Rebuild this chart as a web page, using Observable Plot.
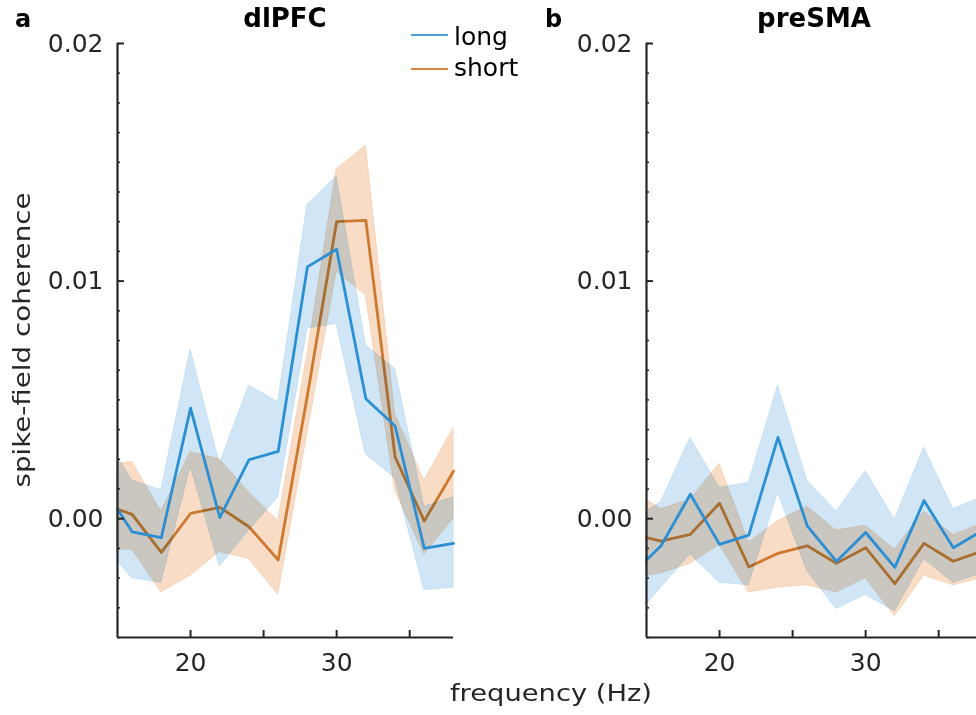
<!DOCTYPE html>
<html>
<head>
<meta charset="utf-8">
<script src="https://cdn.jsdelivr.net/npm/d3@7"></script>
<script src="https://cdn.jsdelivr.net/npm/@observablehq/plot@0.6"></script>
<style>
html, body { margin: 0; padding: 0; background: #fff; overflow: hidden; }
#fig { position: relative; width: 976px; height: 715px; overflow: hidden; font-family: "DejaVu Sans", sans-serif; }
#fig .panel { position: absolute; top: 0; }
#fig .panel svg { max-width: none !important; }
#overlay { position: absolute; left: 0; top: 0; }
</style>
</head>
<body>
<div id="fig"></div>
<script>
// ---- data ----
const freqs = [15, 16, 18, 20, 22, 24, 26, 28, 30, 32, 34, 36, 38];

// panel a: dlPFC
const dlpfcLong   = [0.0004, -0.00055, -0.0008, 0.00465, 0.00005, 0.00248, 0.00283, 0.0106, 0.01134, 0.00505, 0.0039, -0.00125, -0.00104];
const dlpfcLongLo = [-0.0018, -0.0025, -0.0027, 0.0022, -0.0020, -0.0005, 0.0009, 0.0080, 0.0082, 0.0027, 0.0017, -0.0030, -0.0029];
const dlpfcLongHi = [0.0026, 0.0016, 0.0012, 0.0071, 0.0023, 0.0056, 0.0049, 0.0132, 0.0144, 0.0073, 0.0063, 0.0005, 0.0009];
const dlpfcShort   = [0.0004, 0.00018, -0.00142, 0.00022, 0.00048, -0.00034, -0.00174, 0.0052, 0.0125, 0.01256, 0.0026, -0.0001, 0.0020];
const dlpfcShortLo = [-0.0013, -0.0013, -0.0031, -0.0024, -0.0014, -0.0017, -0.0032, 0.0036, 0.0104, 0.0094, 0.0012, -0.0015, 0.0000];
const dlpfcShortHi = [0.0023, 0.0024, 0.0003, 0.0028, 0.0025, 0.0011, -0.0001, 0.0069, 0.0147, 0.0157, 0.0044, 0.0016, 0.0038];

// panel b: preSMA
const presmaLong   = [-0.00174, -0.00114, 0.00103, -0.00108, -0.00069, 0.00342, -0.0003, -0.0018, -0.00058, -0.00205, 0.00076, -0.00122, -0.0005];
const presmaLongLo = [-0.0036, -0.0029, -0.0015, -0.0027, -0.0028, 0.0011, -0.0022, -0.0038, -0.0032, -0.0039, -0.0017, -0.0027, -0.0023];
const presmaLongHi = [0.0003, 0.0007, 0.0034, 0.0013, 0.0015, 0.0056, 0.0016, 0.0003, 0.0020, -0.00005, 0.0030, 0.0004, 0.0009];
const presmaShort   = [-0.0008, -0.00094, -0.00066, 0.00065, -0.00203, -0.00146, -0.00114, -0.00188, -0.00122, -0.00273, -0.00104, -0.00179, -0.00136];
const presmaShortLo = [-0.0024, -0.0023, -0.0019, -0.0011, -0.0031, -0.0029, -0.0028, -0.0031, -0.0025, -0.0041, -0.0024, -0.0028, -0.0025];
const presmaShortHi = [0.0008, 0.0004, 0.0008, 0.0023, -0.0010, -0.0001, 0.0005, -0.0005, -0.0003, -0.0013, 0.0003, -0.0007, -0.0002];

// axes
const xDomain = [15, 38];
const yDomain = [-0.005, 0.02];
const yMajorTicks = [0, 0.01, 0.02];
const yMinorTicks = d3.range(0, 21).map(i => Math.round((-0.005 + i * 0.00125) * 1e6) / 1e6);
const xTicks = [20, 25, 30, 35];
const xTickLabels = [20, 30];

const panelTitles = ["dlPFC", "preSMA"];
const panelLetters = ["a", "b"];
const seriesNames = ["long", "short"];
const xLabel = "frequency (Hz)";
const yLabel = "spike-field coherence";

const colLong = "#2b8fd4", colShort = "#cd7a30";
const fillLong = "#d0e6f7", fillShort = "#f8dcc6";
const axisColor = "#262626";

function panel(L, LLo, LHi, S, SLo, SHi, opts) {
  const rows = freqs.map((f, i) => ({ f, long: L[i], longLo: LLo[i], longHi: LHi[i], short: S[i], shortLo: SLo[i], shortHi: SHi[i] }));
  return Plot.plot({
    width: opts.width, height: 715,
    marginTop: 43, marginBottom: 78, marginLeft: opts.marginLeft, marginRight: opts.marginRight,
    x: { domain: xDomain },
    y: { domain: yDomain },
    style: { fontFamily: '"DejaVu Sans", sans-serif', fontSize: "25px", color: axisColor, background: "transparent" },
    marks: [
      Plot.areaY(rows, { x: "f", y1: "shortLo", y2: "shortHi", fill: fillShort, stroke: "#f3cfb3", strokeWidth: 0.8 }),
      Plot.lineY(rows, { x: "f", y: "short", stroke: colShort, strokeWidth: 2.8 }),
      Plot.areaY(rows, { x: "f", y1: "longLo", y2: "longHi", fill: fillLong, stroke: "#bcdcf3", strokeWidth: 0.8, mixBlendMode: "multiply" }),
      Plot.lineY(rows, { x: "f", y: "long", stroke: colLong, strokeWidth: 2.8 }),
      Plot.ruleX([xDomain[0]], { stroke: axisColor, strokeWidth: 2.2 }),
      Plot.ruleY([yDomain[0]], { stroke: axisColor, strokeWidth: 2.2 }),
      Plot.axisY({ ticks: yMinorTicks, tickSize: 3, dx: 3, tickFormat: () => "", label: null, stroke: axisColor, strokeWidth: 1.5 }),
      Plot.axisY({ ticks: yMajorTicks, tickSize: 7, dx: 7, tickFormat: () => "", label: null, stroke: axisColor, strokeWidth: 2 }),
      Plot.axisY({ ticks: yMajorTicks, tickSize: 0, tickPadding: 14, tickFormat: d3.format(".2f"), label: null }),
      Plot.axisX({ ticks: xTicks, tickSize: 7, dy: -7, tickFormat: () => "", label: null, stroke: axisColor, strokeWidth: 2 }),
      Plot.axisX({ ticks: xTickLabels, tickSize: 0, tickPadding: 16, tickFormat: d => String(d), label: null })
    ]
  });
}

const fig = document.getElementById("fig");

function mount(svg, left, width) {
  const w = document.createElement("div");
  w.className = "panel";
  w.style.left = left + "px";
  w.style.width = width + "px";
  w.style.height = "715px";
  svg.style.maxWidth = "none";
  svg.style.width = width + "px";
  svg.style.height = "715px";
  w.appendChild(svg);
  fig.appendChild(w);
}

const pa = panel(dlpfcLong, dlpfcLongLo, dlpfcLongHi, dlpfcShort, dlpfcShortLo, dlpfcShortHi,
  { width: 530, marginLeft: 117, marginRight: 77 });
mount(pa, 0, 530);

const pb = panel(presmaLong, presmaLongLo, presmaLongHi, presmaShort, presmaShortLo, presmaShortHi,
  { width: 452, marginLeft: 116, marginRight: 0 });
mount(pb, 530, 452);

// ---- overlay: panel letters, titles, legend, shared axis labels ----
const ns = "http://www.w3.org/2000/svg";
const ov = document.createElementNS(ns, "svg");
ov.setAttribute("id", "overlay");
ov.setAttribute("width", 976); ov.setAttribute("height", 715);
ov.setAttribute("font-family", '"DejaVu Sans", sans-serif');
fig.appendChild(ov);
function txt(s, attrs) {
  const t = document.createElementNS(ns, "text");
  for (const k in attrs) t.setAttribute(k, attrs[k]);
  t.textContent = s; ov.appendChild(t); return t;
}
function line(x1, y1, x2, y2, stroke) {
  const l = document.createElementNS(ns, "line");
  l.setAttribute("x1", x1); l.setAttribute("y1", y1); l.setAttribute("x2", x2); l.setAttribute("y2", y2);
  l.setAttribute("stroke", stroke); l.setAttribute("stroke-width", 2);
  ov.appendChild(l);
}
txt(panelLetters[0], { x: 15, y: 27, "font-size": 24, "font-weight": "bold", fill: "#000" });
txt(panelLetters[1], { x: 545, y: 27, "font-size": 24, "font-weight": "bold", fill: "#000" });
txt(panelTitles[0], { x: 285, y: 27, "font-size": 26, "font-weight": "bold", "text-anchor": "middle", fill: "#000" });
txt(panelTitles[1], { x: 814, y: 27, "font-size": 26, "font-weight": "bold", "text-anchor": "middle", fill: "#000" });
// legend
line(411, 35, 448, 35, "#4aa3e0");
line(411, 69, 448, 69, "#d9853b");
txt(seriesNames[0], { x: 454, y: 45, "font-size": 25, fill: "#000" });
txt(seriesNames[1], { x: 454, y: 76, "font-size": 25, fill: "#000" });
// axis labels
txt(xLabel, { x: 551, y: 701, "font-size": 23, "text-anchor": "middle", fill: axisColor, textLength: 202, lengthAdjust: "spacingAndGlyphs" });
txt(yLabel, { x: 0, y: 0, "font-size": 23, "text-anchor": "middle", fill: axisColor, transform: "translate(30,340) rotate(-90)", textLength: 295, lengthAdjust: "spacingAndGlyphs" });
</script>
</body>
</html>
